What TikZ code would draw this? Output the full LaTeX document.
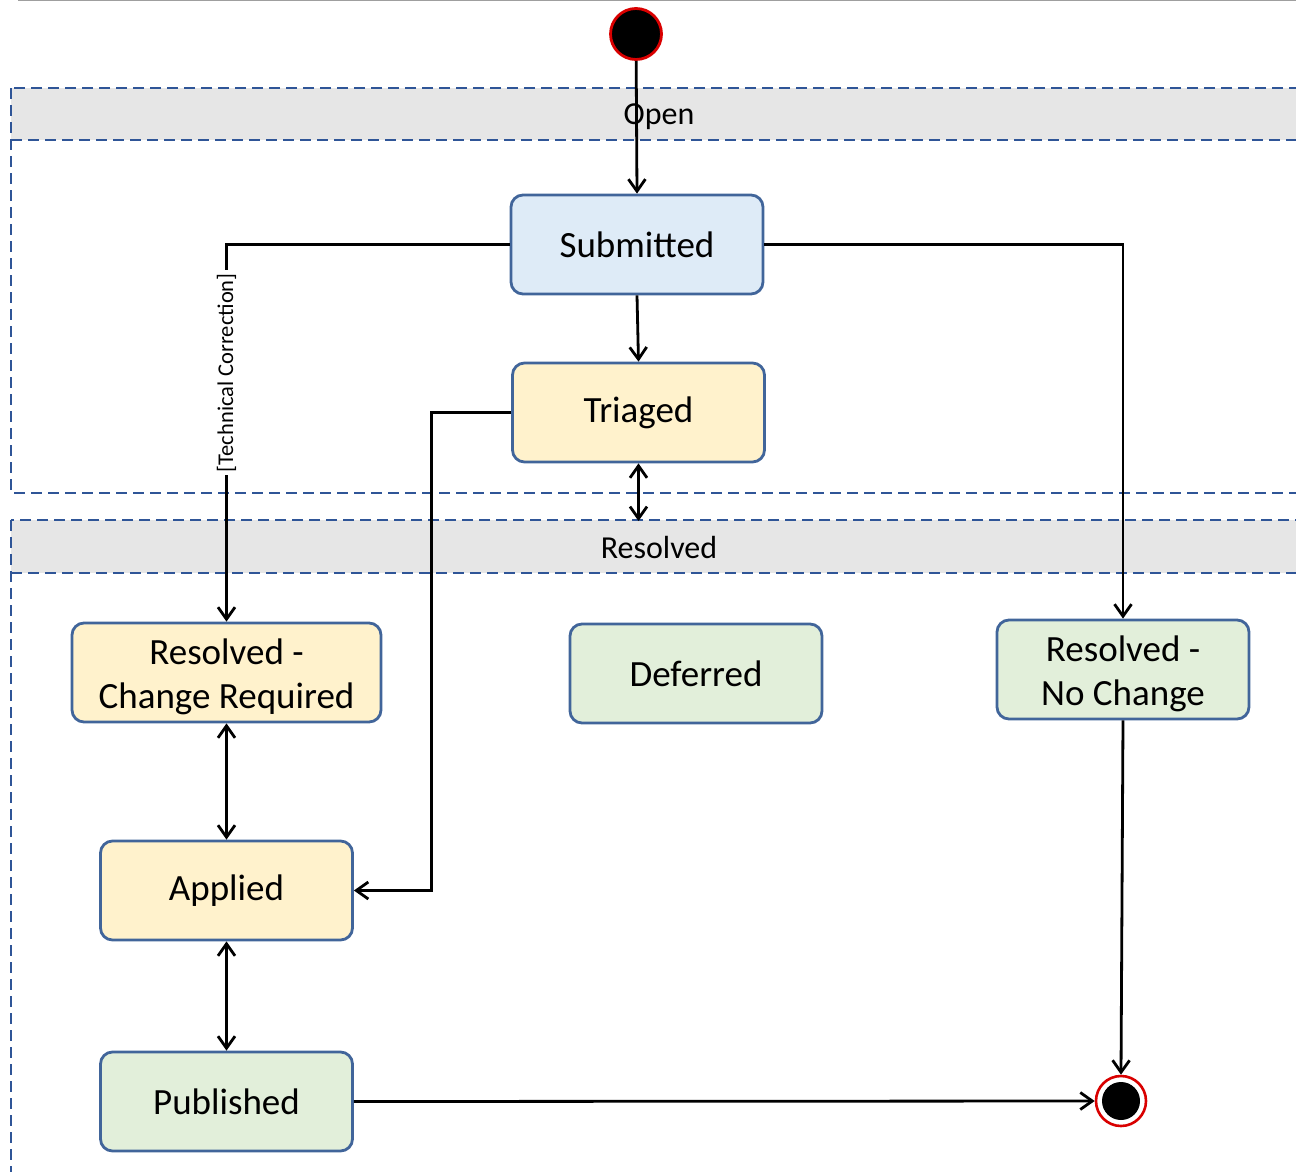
\documentclass[tikz,border=0pt]{standalone}
\usepackage{fontspec}
\setmainfont{Carlito}
\usetikzlibrary{arrows.meta}
\definecolor{bord}{HTML}{41659A}
\definecolor{pooll}{HTML}{2F5597}
\definecolor{hdr}{HTML}{E6E6E6}
\definecolor{fblue}{HTML}{DEEBF7}
\definecolor{fyel}{HTML}{FFF2CC}
\definecolor{fgrn}{HTML}{E2EFDA}
\definecolor{rred}{HTML}{D90000}
\begin{document}
\begin{tikzpicture}[x=1pt,y=-1pt,
  statebox/.style={draw=bord, line width=2.8pt, rounded corners=12pt, minimum width=252pt, minimum height=99pt, align=center, inner sep=0pt, font=\fontsize{37}{44}\selectfont},
  pooldash/.style={draw=pooll, line width=2.9pt, dash pattern=on 11pt off 6pt},
  hdrtext/.style={font=\fontsize{32}{36}\selectfont, inner sep=0pt},
  arr/.style={draw=black, line width=2.8pt, -{Straight Barb[length=12pt,width=17pt]}},
  darr/.style={draw=black, line width=2.8pt, {Straight Barb[length=12pt,width=17pt]}-{Straight Barb[length=12pt,width=17pt]}}
]
\useasboundingbox (0,0) rectangle (1296,1172);
\draw[gray!75, line width=1.5pt] (18,0.5) -- (1296,0.5);
% pools
\fill[hdr] (11,88) rectangle (1330,140);
\draw[pooldash] (11,88) rectangle (1330,493);
\draw[pooldash] (11,140) -- (1330,140);
\node[hdrtext] (openlbl) at (659,116.5) {Open};
\fill[hdr] (11,520) rectangle (1330,573);
\draw[pooldash] (11,520) rectangle (1330,1200);
\draw[pooldash] (11,573) -- (1330,573);
\node[hdrtext] (reslbl) at (659,548) {Resolved};
% start / end
\node[circle, fill=black, draw=rred, line width=2.8pt, minimum size=51pt, inner sep=0pt] (start) at (636,34) {};
\node[circle, fill=white, draw=rred, line width=2.6pt, minimum size=50pt, inner sep=0pt] (end) at (1121,1101) {};
\node[circle, fill=black, minimum size=38pt, inner sep=0pt] (endin) at (1121,1101) {};
% states
\node[statebox, fill=fblue] (sub) at (637,244.5) {Submitted};
\node[statebox, fill=fyel] (tri) at (638.5,412.5) {Triaged};
\node[statebox, fill=fyel, minimum width=309pt] (rcr) at (226.5,672.5) {\rule{0pt}{34pt}Resolved -\\Change Required};
\node[statebox, fill=fgrn] (def) at (696,673.5) {Deferred};
\node[statebox, fill=fgrn] (rnc) at (1123,669.5) {\rule{0pt}{34pt}Resolved -\\No Change};
\node[statebox, fill=fyel] (app) at (226.5,890.5) {Applied};
\node[statebox, fill=fgrn] (pub) at (226.5,1101.5) {Published};
\coordinate (restop) at (638.5,521);
% connectors
\draw[arr] (start) -- (sub.north);
\draw[arr] (sub.south) -- (tri.north);
\draw[arr] (sub.west) -| node[pos=0.67, rotate=90, fill=white, inner sep=3pt, font=\fontsize{22.5}{25}\selectfont] (tclbl) {[Technical Correction]} (rcr.north);
\draw[arr] (sub.east) -| (rnc.north);
\draw[darr] (tri.south) -- (restop);
\draw[arr] (tri.west) -- ++(-80,0) |- (app.east);
\draw[darr] (rcr.south) -- (app.north);
\draw[darr] (app.south) -- (pub.north);
\draw[arr] (rnc.south) -- (end.north);
\draw[arr] (pub.east) -- (end.west);
\end{tikzpicture}
\end{document}
